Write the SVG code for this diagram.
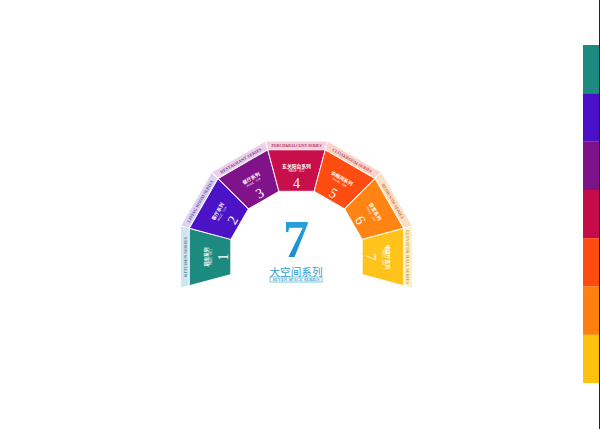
<svg xmlns="http://www.w3.org/2000/svg" width="600" height="429" viewBox="0 0 600 429">
<defs>
<style>
.seg{stroke:#fff;stroke-width:0.9;stroke-linejoin:round}
.band{stroke:#fff;stroke-width:0.9;stroke-linejoin:round}
.bt{font-family:"Liberation Serif",serif;font-size:4.4px;text-anchor:middle;font-weight:bold}
.tt{font-family:"Noto Sans CJK SC",sans-serif;font-size:4.8px;font-weight:bold;fill:#fff;text-anchor:middle}
.pg{font-family:"Liberation Sans",sans-serif;font-size:3px;fill:#fff;text-anchor:middle;opacity:0.9}
.num{font-family:"Liberation Serif",serif;font-size:14px;fill:#fff;text-anchor:middle}
</style>
<linearGradient id="g7" x1="0" y1="0" x2="0" y2="1">
<stop offset="0" stop-color="#2aa6e0"/>
<stop offset="1" stop-color="#1589c8"/>
</linearGradient>
</defs>
<rect width="600" height="429" fill="#fff"/>

<g id="seg1" transform="rotate(-90 296.5 257)">
<polygon class="band" fill="#cfe6ee" points="265.4,141.1 327.6,141.1 325.2,149.8 267.8,149.8"/>
<polygon class="seg" fill="#1d8a80" points="267.8,149.8 325.2,149.8 314.1,191.3 278.9,191.3"/>
<text class="bt" x="296.5" y="147.2" fill="#4f8a9a" textLength="40" lengthAdjust="spacingAndGlyphs">KITCHEN SERIES</text>
<text class="tt" x="296.5" y="168">厨房系列</text>
<text class="pg" x="296.5" y="172">PAGE · 001</text>
<text class="num" x="296.5" y="188">1</text>
</g>

<g id="seg2" transform="rotate(-60 296.5 257)">
<polygon class="band" fill="#dcd4f2" points="265.4,141.1 327.6,141.1 325.2,149.8 267.8,149.8"/>
<polygon class="seg" fill="#4b12c6" points="267.8,149.8 325.2,149.8 314.1,191.3 278.9,191.3"/>
<text class="bt" x="296.5" y="147.2" fill="#6a4aa6" textLength="48" lengthAdjust="spacingAndGlyphs">LIVING ROOM SERIES</text>
<text class="tt" x="296.5" y="168">客厅系列</text>
<text class="pg" x="296.5" y="172">PAGE · 024</text>
<text class="num" x="296.5" y="188">2</text>
</g>

<g id="seg3" transform="rotate(-30 296.5 257)">
<polygon class="band" fill="#ead0ea" points="265.4,141.1 327.6,141.1 325.2,149.8 267.8,149.8"/>
<polygon class="seg" fill="#80138a" points="267.8,149.8 325.2,149.8 314.1,191.3 278.9,191.3"/>
<text class="bt" x="296.5" y="147.2" fill="#8c3a8c" textLength="47" lengthAdjust="spacingAndGlyphs">RESTAURANT SERIES</text>
<text class="tt" x="296.5" y="168">餐厅系列</text>
<text class="pg" x="296.5" y="172">PAGE · 048</text>
<text class="num" x="296.5" y="188">3</text>
</g>

<g id="seg4">
<polygon class="band" fill="#f5cfe0" points="265.4,141.1 327.6,141.1 325.2,149.8 267.8,149.8"/>
<polygon class="seg" fill="#c80f4c" points="267.8,149.8 325.2,149.8 314.1,191.3 278.9,191.3"/>
<text class="bt" x="296.5" y="147.2" fill="#b0305e" textLength="50" lengthAdjust="spacingAndGlyphs">PORCH&amp;BALCONY SERIES</text>
<text class="tt" x="296.5" y="168">玄关阳台系列</text>
<text class="pg" x="296.5" y="172">PAGE · 072</text>
<text class="num" x="296.5" y="188">4</text>
</g>

<g id="seg5" transform="rotate(30 296.5 257)">
<polygon class="band" fill="#f9d3cc" points="265.4,141.1 327.6,141.1 325.2,149.8 267.8,149.8"/>
<polygon class="seg" fill="#ff4d12" points="267.8,149.8 325.2,149.8 314.1,191.3 278.9,191.3"/>
<text class="bt" x="296.5" y="147.2" fill="#c0504a" textLength="45" lengthAdjust="spacingAndGlyphs">CLOAKROOM SERIES</text>
<text class="tt" x="296.5" y="168">衣帽间系列</text>
<text class="pg" x="296.5" y="172">PAGE · 096</text>
<text class="num" x="296.5" y="188">5</text>
</g>

<g id="seg6" transform="rotate(60 296.5 257)">
<polygon class="band" fill="#fbdfc6" points="265.4,141.1 327.6,141.1 325.2,149.8 267.8,149.8"/>
<polygon class="seg" fill="#ff8414" points="267.8,149.8 325.2,149.8 314.1,191.3 278.9,191.3"/>
<text class="bt" x="296.5" y="147.2" fill="#c8864a" textLength="40" lengthAdjust="spacingAndGlyphs">BEDROOM SERIES</text>
<text class="tt" x="296.5" y="168">卧室系列</text>
<text class="pg" x="296.5" y="172">PAGE · 120</text>
<text class="num" x="296.5" y="188">6</text>
</g>

<g id="seg7" transform="rotate(90 296.5 257)">
<polygon class="band" fill="#fcefc2" points="265.4,141.1 327.6,141.1 325.2,149.8 267.8,149.8"/>
<polygon class="seg" fill="#ffc31c" points="267.8,149.8 325.2,149.8 314.1,191.3 278.9,191.3"/>
<text class="bt" x="296.5" y="147.2" fill="#c8a850" textLength="54" lengthAdjust="spacingAndGlyphs">ELEVATOR HALL SERIES</text>
<text class="tt" x="296.5" y="168">电梯厅系列</text>
<text class="pg" x="296.5" y="172">PAGE · 144</text>
<text class="num" x="296.5" y="188">7</text>
</g>

<g id="center">
<text x="296" y="257" font-family="Liberation Serif, serif" font-size="52" font-weight="bold" fill="url(#g7)" text-anchor="middle">7</text>
<text x="296" y="275.5" font-family="Noto Sans CJK SC, sans-serif" font-size="10.6" fill="#2d9fcb" text-anchor="middle">大空间系列</text>
<rect x="270" y="277" width="52" height="5" fill="#fff" stroke="#2d9fcb" stroke-width="0.6"/>
<text x="296" y="280.8" font-family="Liberation Serif, serif" font-size="3.6" font-weight="bold" fill="#2d9fcb" text-anchor="middle" textLength="47" lengthAdjust="spacingAndGlyphs">SEVEN SPACE SERIES</text>
</g>

<g id="colorbar">
<rect x="583" y="45" width="16" height="48.4" fill="#1b8a80"/>
<rect x="583" y="93.3" width="16" height="48.4" fill="#4a10c8"/>
<rect x="583" y="141.6" width="16" height="48.4" fill="#7d1288"/>
<rect x="583" y="189.9" width="16" height="48.4" fill="#c60c48"/>
<rect x="583" y="238.2" width="16" height="48.4" fill="#ff4a10"/>
<rect x="583" y="286.5" width="16" height="48.4" fill="#ff8010"/>
<rect x="583" y="334.8" width="16" height="48.2" fill="#ffc20e"/>
</g>
<line x1="599.5" y1="0" x2="599.5" y2="429" stroke="#222" stroke-width="1"/>
</svg>
